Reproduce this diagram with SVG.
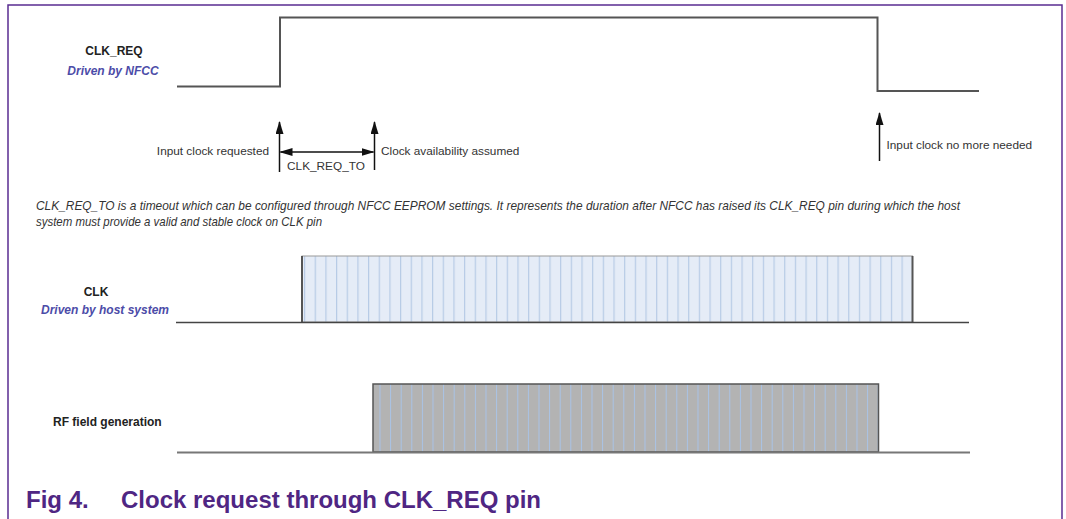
<svg xmlns="http://www.w3.org/2000/svg" width="1066" height="519" viewBox="0 0 1066 519">
<style>
.lbl{font-family:"Liberation Sans",Arial,sans-serif;font-size:12px;font-weight:bold;fill:#222}
.drv{font-family:"Liberation Sans",Arial,sans-serif;font-size:12px;font-weight:bold;font-style:italic;fill:#4c4ca8}
.txt{font-family:"Liberation Sans",Arial,sans-serif;font-size:11.8px;fill:#333}
.note{font-family:"Liberation Sans",Arial,sans-serif;font-size:11.9px;font-style:italic;fill:#333}
.cap{font-family:"Liberation Sans",Arial,sans-serif;font-size:24px;font-weight:bold;fill:#4f2683}
.sig{fill:none;stroke:#555;stroke-width:2}
.base{fill:none;stroke:#444;stroke-width:1.5}
.arr{stroke:#111;stroke-width:1.5;fill:none}
</style>
<defs>
<marker id="ah" markerUnits="userSpaceOnUse" markerWidth="13" markerHeight="8" refX="12" refY="4" orient="auto-start-reverse">
<path d="M0,0 L13,4 L0,8 z" fill="#111"/>
</marker>
<pattern id="clkp" patternUnits="userSpaceOnUse" x="304" y="0" width="10.67" height="10">
<rect width="10.67" height="10" fill="#e5ecf7"/>
<rect x="0" width="1.2" height="10" fill="#b7cbe6"/>
</pattern>
<pattern id="rfp" patternUnits="userSpaceOnUse" x="379.5" y="0" width="10.6" height="10">
<rect width="10.6" height="10" fill="#b3b3b3"/>
<rect x="0" width="1" height="10" fill="#a9c3e6"/>
</pattern>
</defs>
<rect width="1066" height="519" fill="#fff"/>
<path d="M8,519 V5 H1062 V519" fill="none" stroke="#5a2d91" stroke-width="1.5"/>

<g id="clk_req">
<text class="lbl" x="114" y="55" text-anchor="middle">CLK_REQ</text>
<text class="drv" x="113" y="75" text-anchor="middle">Driven by NFCC</text>
<path class="sig" d="M177,86.5 H280 V17.5 H877.5 V91 H979"/>
</g>

<g id="clk">
<text class="lbl" x="96" y="296" text-anchor="middle">CLK</text>
<text class="drv" x="105" y="314" text-anchor="middle">Driven by host system</text>
<rect x="302" y="256" width="610.5" height="66" fill="url(#clkp)" stroke="#9a9a9a" stroke-width="1"/>
<path d="M302,322 V256 M912.5,256 V322" stroke="#555" stroke-width="2" fill="none"/>
<path class="base" d="M176,322.5 H969"/>
</g>

<g id="rf">
<text class="lbl" x="53" y="426">RF field generation</text>
<rect x="373" y="384" width="505.5" height="68" fill="url(#rfp)" stroke="#555" stroke-width="1.5"/>
<path d="M177,452.5 H970" stroke="#777" stroke-width="2" fill="none"/>
</g>

<g id="note">
<text class="note" x="36" y="209.5" textLength="924" lengthAdjust="spacing">CLK_REQ_TO is a timeout which can be configured through NFCC EEPROM settings. It represents the duration after NFCC has raised its CLK_REQ pin during which the host</text>
<text class="note" x="36" y="225.5" textLength="286" lengthAdjust="spacingAndGlyphs">system must provide a valid and stable clock on CLK pin</text>
</g>

<g id="events">
<text class="txt" x="269" y="155" text-anchor="end">Input clock requested</text>
<text class="txt" x="326" y="170" text-anchor="middle">CLK_REQ_TO</text>
<text class="txt" x="381" y="155">Clock availability assumed</text>
<text class="txt" x="886.5" y="149">Input clock no more needed</text>
</g>

<g id="connectors">
<line class="arr" x1="279.5" y1="172" x2="279.5" y2="122" marker-end="url(#ah)"/>
<line class="arr" x1="374.5" y1="170" x2="374.5" y2="122" marker-end="url(#ah)"/>
<line class="arr" x1="280.5" y1="152" x2="373.5" y2="152" marker-start="url(#ah)" marker-end="url(#ah)"/>
<line class="arr" x1="879.5" y1="161" x2="879.5" y2="113" marker-end="url(#ah)"/>
</g>

<g id="caption">
<text class="cap" x="26" y="507.5">Fig 4.</text>
<text class="cap" x="121" y="507.5">Clock request through CLK_REQ pin</text>
</g>
</svg>
